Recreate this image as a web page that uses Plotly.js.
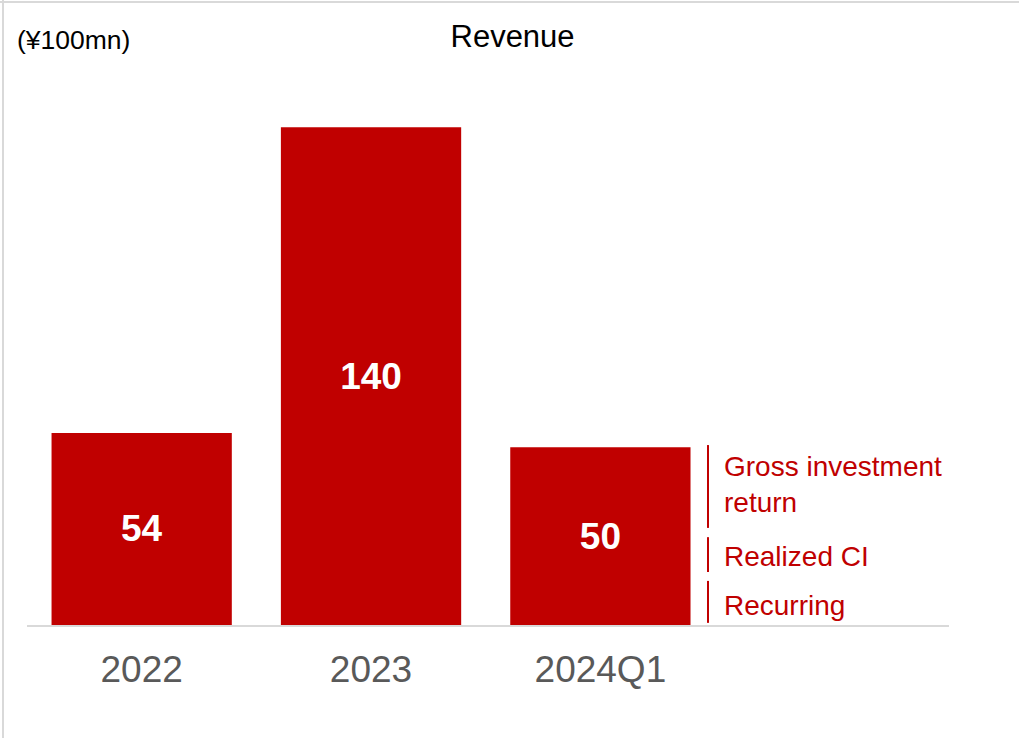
<!DOCTYPE html>
<html>
<head>
<meta charset="utf-8">
<script src="https://cdn.plot.ly/plotly-3.0.1.min.js"></script>
<style>
  html, body { margin: 0; padding: 0; background: #fff; }
  #wrap { position: relative; width: 1019px; height: 738px; }
  #chart { width: 1019px; height: 738px; }
  .bt { position: absolute; left: 0; top: 1px; width: 1019px; height: 2px; background: #d9d9d9; }
  .bl { position: absolute; left: 2px; top: 0; width: 2px; height: 738px; background: #d9d9d9; }
</style>
</head>
<body>
<div id="wrap">
  <div id="chart"></div>
  <div class="bt"></div>
  <div class="bl"></div>
</div>
<script>
// Data
const categories = ["2022", "2023", "2024Q1"];
const revenue = [54, 140, 50];
const unitLabel = "(¥100mn)";
const chartTitle = "Revenue";
// Breakdown labels beside the 2024Q1 bar (top to bottom) and their bracket spans (in value units)
const breakdownLabels = ["Gross investment<br>return", "Realized CI", "Recurring"];
const breakdownTop = [50.6, 24.7, 12.4];
const breakdownBottom = [27.3, 14.9, 0.6];
const breakdownTextY = [39.5, 19.2, 5.6];

const red = "#C00000";
const font = "Liberation Sans, Arial, sans-serif";

const trace = {
  type: "bar",
  x: categories,
  y: revenue,
  marker: { color: red, line: { width: 0 } },
  width: 0.786,
  text: revenue.map(String),
  textposition: "inside",
  insidetextanchor: "middle",
  textangle: 0,
  textfont: { family: font, size: 37, color: "#ffffff", weight: "bold" },
  hoverinfo: "skip",
  cliponaxis: false
};

const shapes = breakdownTop.map((t, i) => ({
  type: "line", xref: "paper", yref: "y",
  x0: 0.7386, x1: 0.7386, y0: breakdownBottom[i], y1: t,
  line: { color: red, width: 2 }
}));

const annotations = breakdownLabels.map((lab, i) => ({
  text: lab, xref: "paper", yref: "y", x: 0.754, y: breakdownTextY[i],
  xanchor: "left", yanchor: "middle", align: "left", showarrow: false,
  font: { family: font, size: 28, color: red }
}));
annotations.push({
  text: unitLabel, xref: "paper", yref: "paper", x: -0.013, y: 1.028,
  xanchor: "left", yanchor: "middle", showarrow: false,
  font: { family: font, size: 26.5, color: "#000000" }
});

const layout = {
  width: 1019, height: 738,
  margin: { l: 27, r: 70, t: 56, b: 113 },
  paper_bgcolor: "#ffffff", plot_bgcolor: "#ffffff",
  showlegend: false,
  title: {
    text: chartTitle, xref: "container", yref: "container",
    x: 0.503, y: 0.951, xanchor: "center", yanchor: "middle",
    font: { family: font, size: 31, color: "#000000" }
  },
  xaxis: {
    type: "category", range: [-0.5, 3.52],
    showline: true, linecolor: "#d9d9d9", linewidth: 2,
    showgrid: false, zeroline: false, ticks: "",
    tickfont: { family: font, size: 37, color: "#595959" },
    ticklabelstandoff: 11, fixedrange: true
  },
  yaxis: {
    range: [0, 160], visible: false, showgrid: false, zeroline: false, fixedrange: true
  },
  shapes: shapes,
  annotations: annotations
};

Plotly.newPlot("chart", [trace], layout, { displayModeBar: false, staticPlot: true });
</script>
</body>
</html>
